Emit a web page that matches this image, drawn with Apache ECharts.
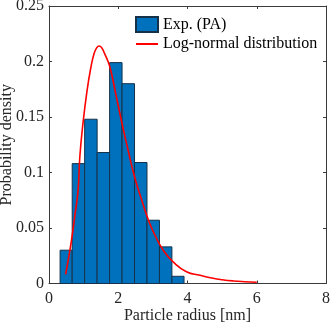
<!DOCTYPE html>
<html>
<head>
<meta charset="utf-8">
<script src="https://cdn.jsdelivr.net/npm/echarts@6/dist/echarts.min.js"></script>
<style>html,body{margin:0;padding:0;background:#fff}#c{width:332px;height:328px}</style>
</head>
<body>
<div id="c"></div>
<script>
// Histogram bin edges (nm) and probability densities
var binEdges = [0.32, 0.67, 1.03, 1.39, 1.75, 2.11, 2.47, 2.83, 3.19, 3.55, 3.90];
var densities = [0.030, 0.108, 0.148, 0.118, 0.199, 0.180, 0.109, 0.057, 0.033, 0.0065];
// Log-normal fit curve points
var curveX = [0.48, 0.56, 0.65, 0.75, 0.84, 0.89, 0.98, 1.10, 1.20, 1.30, 1.38, 1.445, 1.52, 1.60, 1.75, 1.92, 2.11, 2.30, 2.48, 2.70, 2.91, 3.10, 3.30, 3.60, 3.97, 4.36, 4.74, 5.00, 5.32, 5.65, 6.00];
var curveY = [0.0083, 0.022, 0.039, 0.062, 0.084, 0.114, 0.144, 0.174, 0.193, 0.207, 0.2125, 0.214, 0.2125, 0.2075, 0.196, 0.172, 0.144, 0.118, 0.095, 0.073, 0.054, 0.041, 0.030, 0.019, 0.0106, 0.0074, 0.0047, 0.0034, 0.0023, 0.0016, 0.0011];
var xTicks = [0, 8, 2];
var yTicks = [0, 0.25, 0.05];
var seriesNames = ['Exp. (PA)', 'Log-normal distribution'];
var xName = 'Particle radius [nm]';
var yName = 'Probability density';

var barData = densities.map(function (d, i) { return [binEdges[i], binEdges[i + 1], d]; });
var lineData = curveX.map(function (x, i) { return [x, curveY[i]]; });

var font = "'Liberation Serif', 'Times New Roman', serif";
var axisCol = '#3a3a3a';
var txtCol = '#262626';
var fs = 16;

var chart = echarts.init(document.getElementById('c'), null, {renderer: 'canvas'});
chart.setOption({
  animation: false,
  backgroundColor: '#ffffff',
  grid: {left: 49, right: 6, top: 6, bottom: 44.5, show: false, containLabel: false, outerBoundsMode: 'none'},
  legend: {
    orient: 'vertical', left: 135, top: 16, padding: 0, itemWidth: 22, itemHeight: 15, itemGap: 3,
    textStyle: {fontFamily: font, fontSize: fs, color: '#000'},
    data: [
      {name: seriesNames[0], icon: 'rect'},
      {name: seriesNames[1], itemStyle: {opacity: 0}}
    ]
  },
  xAxis: [{
    type: 'value', min: xTicks[0], max: xTicks[1], interval: xTicks[2],
    name: xName, nameLocation: 'middle', nameGap: 24.5, nameMoveOverlap: false,
    nameTextStyle: {fontFamily: font, fontSize: fs, color: txtCol},
    axisLine: {show: true, lineStyle: {color: axisCol, width: 1}},
    axisTick: {show: true, inside: true, length: 3, lineStyle: {color: axisCol}},
    axisLabel: {fontFamily: font, fontSize: fs, color: txtCol, margin: 7},
    splitLine: {show: false}
  }, {
    type: 'value', position: 'top', min: xTicks[0], max: xTicks[1], interval: xTicks[2],
    axisLine: {show: true, onZero: false, lineStyle: {color: axisCol, width: 1}},
    axisTick: {show: true, inside: true, length: 3, lineStyle: {color: axisCol}},
    axisLabel: {show: false}, splitLine: {show: false}
  }],
  yAxis: [{
    type: 'value', min: yTicks[0], max: yTicks[1], interval: yTicks[2],
    name: yName, nameLocation: 'middle', nameGap: 34, nameMoveOverlap: false,
    nameTextStyle: {fontFamily: font, fontSize: fs, color: txtCol},
    axisLine: {show: true, lineStyle: {color: axisCol, width: 1}},
    axisTick: {show: true, inside: true, length: 3, lineStyle: {color: axisCol}},
    axisLabel: {fontFamily: font, fontSize: fs, color: txtCol, margin: 5},
    splitLine: {show: false}
  }, {
    type: 'value', position: 'right', min: yTicks[0], max: yTicks[1], interval: yTicks[2],
    axisLine: {show: true, onZero: false, lineStyle: {color: axisCol, width: 1}},
    axisTick: {show: true, inside: true, length: 3, lineStyle: {color: axisCol}},
    axisLabel: {show: false}, splitLine: {show: false}
  }],
  series: [{
    name: seriesNames[0],
    type: 'custom',
    xAxisIndex: 0, yAxisIndex: 0,
    itemStyle: {color: '#0072BD', borderColor: '#16324a', borderWidth: 1},
    encode: {x: [0, 1], y: 2},
    data: barData,
    renderItem: function (params, api) {
      var p0 = api.coord([api.value(0), 0]);
      var p1 = api.coord([api.value(1), api.value(2)]);
      return {
        type: 'rect',
        shape: {x: p0[0], y: p1[1], width: p1[0] - p0[0], height: p0[1] - p1[1]},
        style: {fill: '#0072BD', stroke: '#16324a', lineWidth: 1}
      };
    }
  }, {
    name: seriesNames[1],
    type: 'line',
    xAxisIndex: 0, yAxisIndex: 0,
    symbol: 'none', smooth: true, z: 5,
    lineStyle: {color: '#ff0000', width: 1.6},
    itemStyle: {color: '#ff0000'},
    data: lineData
  }]
});
</script>
</body>
</html>
